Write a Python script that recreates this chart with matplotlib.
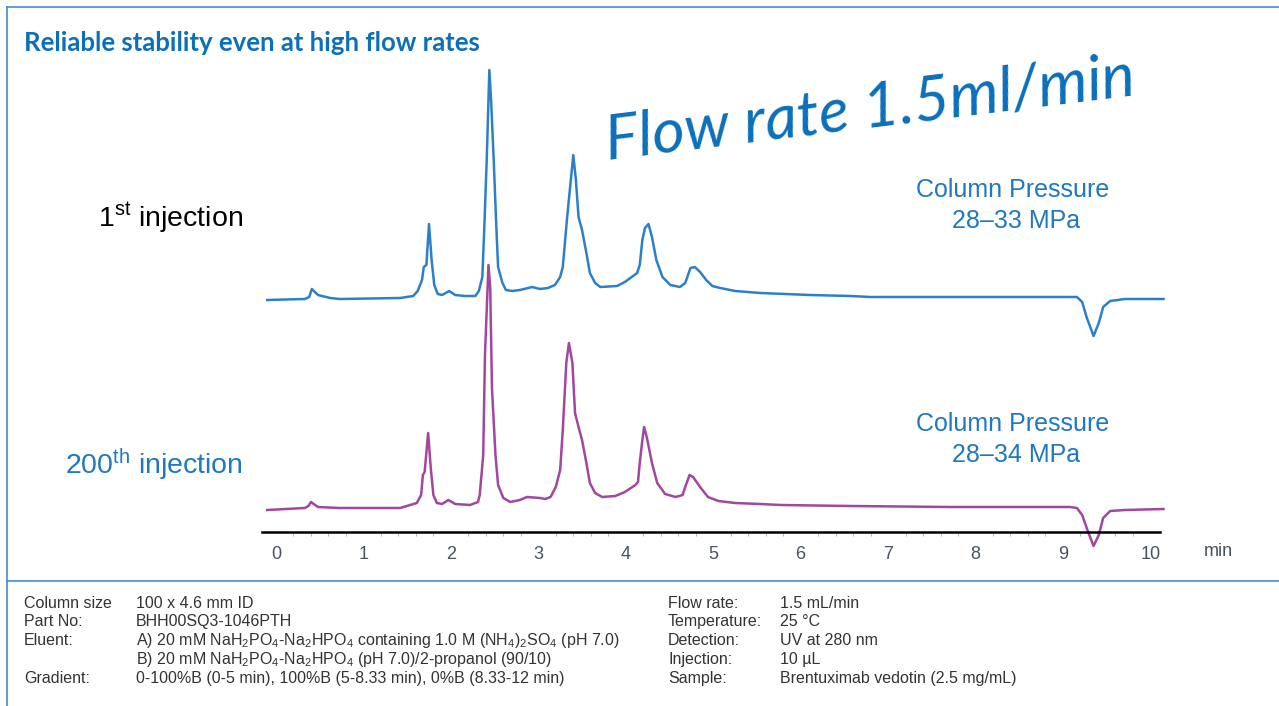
import matplotlib.pyplot as plt
from matplotlib.lines import Line2D
from matplotlib.ticker import MultipleLocator

plt.rcParams['font.family'] = ['Liberation Sans', 'DejaVu Sans']
plt.rcParams['mathtext.fontset'] = 'custom'
plt.rcParams['mathtext.rm'] = 'Liberation Sans'
plt.rcParams['mathtext.default'] = 'regular'

# chromatograms (time in min, signal in arbitrary units)
t_first = [-0.10, 0.33, 0.38, 0.41, 0.48, 0.62, 0.73, 1.42, 1.57, 1.62, 1.67, 1.69, 1.72,
           1.75, 1.78, 1.81, 1.85, 1.90, 1.98, 2.05, 2.16, 2.28, 2.32, 2.36, 2.38, 2.41,
           2.44, 2.46, 2.49, 2.52, 2.54, 2.59, 2.63, 2.70, 2.79, 2.93, 3.02, 3.11, 3.19,
           3.25, 3.28, 3.33, 3.40, 3.43, 3.46, 3.50, 3.55, 3.59, 3.65, 3.71, 3.90, 3.99,
           4.13, 4.16, 4.19, 4.22, 4.26, 4.30, 4.35, 4.42, 4.51, 4.62, 4.68, 4.74, 4.79,
           4.85, 4.92, 4.99, 5.08, 5.25, 5.54, 6.11, 6.57, 6.80, 9.16, 9.22, 9.27, 9.35,
           9.41, 9.46, 9.54, 9.71, 10.15]
s_first = [0, 1, 3, 11, 5, 2, 1, 2, 4, 9, 20, 33, 35,
           76, 40, 15, 6, 5, 9, 5, 4, 4, 9, 23, 67, 140,
           230, 200, 140, 73, 33, 17, 10, 9, 10, 13, 11, 12, 15,
           23, 33, 83, 145, 120, 83, 70, 47, 27, 17, 13, 14, 18,
           27, 35, 60, 72, 76, 63, 40, 23, 15, 13, 17, 32, 33,
           28, 20, 14, 12, 9, 7, 5, 4, 3, 3, -2, -17, -36,
           -23, -7, -1, 1, 1]

t_200th = [-0.10, 0.33, 0.37, 0.40, 0.48, 0.73, 1.42, 1.61, 1.66, 1.68, 1.70, 1.74, 1.77,
           1.80, 1.84, 1.90, 1.97, 2.05, 2.22, 2.31, 2.33, 2.37, 2.39, 2.43, 2.45, 2.47,
           2.51, 2.54, 2.60, 2.68, 2.79, 2.87, 3.02, 3.08, 3.14, 3.20, 3.25, 3.28, 3.32,
           3.35, 3.39, 3.42, 3.46, 3.50, 3.55, 3.59, 3.65, 3.73, 3.88, 3.99, 4.11, 4.14,
           4.16, 4.19, 4.21, 4.24, 4.30, 4.36, 4.45, 4.57, 4.65, 4.68, 4.73, 4.77, 4.85,
           4.94, 5.06, 5.25, 5.54, 5.77, 6.57, 7.71, 9.08, 9.16, 9.22, 9.28, 9.35, 9.41,
           9.46, 9.54, 9.71, 10.15]
s_200th = [0, 2, 4, 8, 3, 2, 2, 7, 15, 35, 38, 77, 42,
           15, 7, 6, 10, 6, 5, 8, 15, 55, 155, 245, 222, 122,
           55, 25, 12, 8, 10, 13, 12, 11, 13, 23, 40, 80, 147,
           167, 147, 97, 83, 70, 47, 27, 17, 13, 14, 18, 25, 28,
           47, 70, 83, 73, 47, 27, 16, 13, 15, 23, 35, 33, 23,
           13, 9, 7, 6, 5, 4, 3, 3, 2, -5, -20, -36, -25,
           -8, -1, 0, 1]

first_offset = 210
x_ticks = [0, 1, 2, 3, 4, 5, 6, 7, 8, 9, 10]

footer_left = [
    ('Column size', '100 x 4.6 mm ID'),
    ('Part No:', 'BHH00SQ3-1046PTH'),
    ('Eluent:', 'A) 20 mM NaH$_2$PO$_4$-Na$_2$HPO$_4$ containing 1.0 M (NH$_4$)$_2$SO$_4$ (pH 7.0)'),
    ('', 'B) 20 mM NaH$_2$PO$_4$-Na$_2$HPO$_4$ (pH 7.0)/2-propanol (90/10)'),
    ('Gradient:', '0-100%B (0-5 min), 100%B (5-8.33 min), 0%B (8.33-12 min)'),
]
footer_right = [
    ('Flow rate:', '1.5 mL/min'),
    ('Temperature:', '25 °C'),
    ('Detection:', 'UV at 280 nm'),
    ('Injection:', '10 µL'),
    ('Sample:', 'Brentuximab vedotin (2.5 mg/mL)'),
]

BLUE = '#0b6fba'
TRACE_BLUE = '#2c80c9'
TRACE_MAG = '#a1479e'
W, H = 1279, 706


def fx(x):
    return x / W


def fy(y):
    return 1 - y / H


fig = plt.figure(figsize=(W / 100, H / 100), dpi=100)

# frame
frame = '#3d8fd6'
fig.add_artist(Line2D([fx(7), 1], [fy(7), fy(7)], color=frame, lw=1.2))
fig.add_artist(Line2D([fx(7), fx(7)], [fy(7), 0], color=frame, lw=1.2))
fig.add_artist(Line2D([fx(7), 1], [fy(581), fy(581)], color=frame, lw=1.2))

ax = fig.add_axes([fx(262), fy(532), fx(1160 - 262), (532 - 60) / H])
ax.plot(t_first, [v + first_offset for v in s_first], color=TRACE_BLUE, lw=1.8,
        clip_on=False, solid_joinstyle='round')
ax.plot(t_200th, s_200th, color=TRACE_MAG, lw=1.8, clip_on=False, solid_joinstyle='round')
ax.set_xlim(-0.16, 10.11)
ax.set_ylim(-22, 450)
for side in ['top', 'right', 'left']:
    ax.spines[side].set_visible(False)
ax.spines['bottom'].set_linewidth(1.8)
ax.set_yticks([])
ax.set_xticks(x_ticks)
ax.set_xticklabels([str(v) for v in x_ticks], family=['Liberation Sans Narrow', 'Liberation Sans'],
                   color='#4a5260', fontsize=13, fontstretch='condensed')
ax.xaxis.set_minor_locator(MultipleLocator(0.2))
ax.tick_params(axis='x', which='major', length=0, pad=10)
ax.tick_params(axis='x', which='minor', length=3, color='#bbbbbb', width=0.8)
fig.text(fx(1218), fy(551), 'min', ha='center', va='center', color='#4a5260', fontsize=13,
         family=['Liberation Sans Narrow', 'Liberation Sans'])

# titles and labels
fig.text(fx(24), fy(43), 'Reliable stability even at high flow rates', color=BLUE,
         fontsize=18.5, fontweight='bold', family=['Lato', 'DejaVu Sans'], va='center')
fig.text(fx(870), fy(110), 'Flow rate 1.5ml/min', color=BLUE, fontsize=45,
         style='italic', family=['Lato', 'DejaVu Sans'], rotation=7,
         ha='center', va='center')

fig.text(fx(243), fy(218), r'1$^{st}$ injection', color='black', fontsize=20.5,
         ha='right', va='center')
fig.text(fx(243), fy(465), r'200$^{th}$ injection', color='#1f78c1', fontsize=20.5,
         ha='right', va='center')

for y0, rng in [(190, '28–33 MPa'), (424, '28–34 MPa')]:
    fig.text(fx(1013), fy(y0), 'Column Pressure', color='#1f78c1', fontsize=18,
             ha='center', va='center')
    fig.text(fx(1016), fy(y0 + 31), rng, color='#1f78c1', fontsize=18,
             ha='center', va='center')

# footer (baselines)
row_y = [608, 626, 645, 664, 683]
for (lab, val), y in zip(footer_left, row_y):
    fig.text(fx(24), fy(y), lab, fontsize=11.5, color='#333333', va='baseline')
    fig.text(fx(136), fy(y), val, fontsize=11.5, color='#333333', va='baseline')
for (lab, val), y in zip(footer_right, row_y):
    fig.text(fx(668), fy(y), lab, fontsize=11.5, color='#333333', va='baseline')
    fig.text(fx(780), fy(y), val, fontsize=11.5, color='#333333', va='baseline')

fig.savefig('out.png', dpi=100)
